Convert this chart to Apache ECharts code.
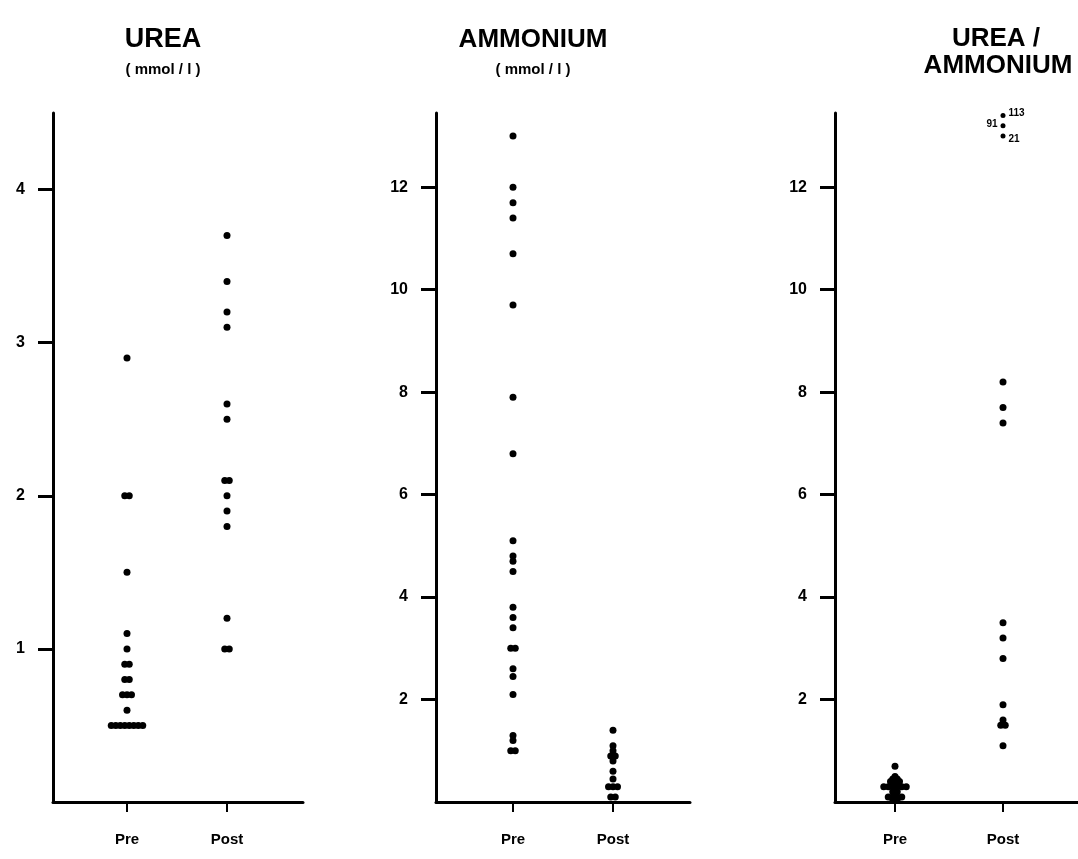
<!DOCTYPE html>
<html>
<head>
<meta charset="utf-8">
<title>Urea and ammonium, pre and post</title>
<script src="https://cdn.jsdelivr.net/npm/echarts@6/dist/echarts.min.js"></script>
<style>
  html, body { margin: 0; padding: 0; background: #fff; }
  #chart { width: 1078px; height: 859px; }
</style>
</head>
<body>
<div id="chart"></div>
<script>
// Groups on the x axis of every panel
const groups = ['Pre', 'Post'];

// Urea (mmol/l)
const ureaPre = [2.9, 2.0, 2.0, 1.5, 1.1, 1.0, 0.9, 0.9, 0.8, 0.8, 0.7, 0.7, 0.7, 0.6,
                 0.5, 0.5, 0.5, 0.5, 0.5, 0.5, 0.5, 0.5];
const ureaPost = [3.7, 3.4, 3.2, 3.1, 2.6, 2.5, 2.1, 2.1, 2.0, 1.9, 1.8, 1.2, 1.0, 1.0];

// Ammonium (mmol/l)
const ammoniumPre = [13.0, 12.0, 11.7, 11.4, 10.7, 9.7, 7.9, 6.8, 5.1, 4.8, 4.7, 4.5,
                     3.8, 3.6, 3.4, 3.0, 3.0, 2.6, 2.45, 2.1, 1.3, 1.2, 1.0, 1.0];
const ammoniumPost = [1.4, 1.1, 1.0, 0.9, 0.9, 0.8, 0.6, 0.45, 0.3, 0.3, 0.3, 0.1, 0.1];

// Urea / ammonium ratio
const ratioPre = [0.7, 0.5, 0.45, 0.45, 0.4, 0.4, 0.4, 0.35, 0.3, 0.3, 0.3, 0.3, 0.3, 0.3,
                  0.25, 0.2, 0.2, 0.15, 0.1, 0.1, 0.1, 0.1, 0.05, 0.05];
const ratioPost = [8.2, 7.7, 7.4, 3.5, 3.2, 2.8, 1.9, 1.6, 1.5, 1.5, 1.1];
// Post values beyond the axis range, stacked at the top with their value written beside
const ratioPostOffScale = [113, 91, 21];

// Tick labels of the y axes
const ureaTicks = [1, 2, 3, 4];
const ammoniumTicks = [2, 4, 6, 8, 10, 12];
const ratioTicks = [2, 4, 6, 8, 10, 12];

// Panel layout (pixels)
const panels = [
  { left: 53,  width: 250, firstAt: 74, spacing: 100, max: 4.5,   ticks: ureaTicks,     pre: ureaPre,     post: ureaPost },
  { left: 436, width: 254, firstAt: 77, spacing: 100, max: 13.45, ticks: ammoniumTicks, pre: ammoniumPre, post: ammoniumPost },
  { left: 835, width: 243, firstAt: 60, spacing: 108, max: 13.45, ticks: ratioTicks,    pre: ratioPre,    post: ratioPost }
];
const gridTop = 113;
const gridHeight = 689;
const dotSize = 7;
const dotStepPx = 4.5;

// Tied values are laid side by side around the group position
function dotRow(values, groupIndex, step) {
  const counts = {};
  values.forEach(v => { counts[v] = (counts[v] || 0) + 1; });
  const seen = {};
  return values.map(v => {
    const k = counts[v];
    const i = seen[v] = (seen[v] === undefined ? 0 : seen[v] + 1);
    return [groupIndex + (i - (k - 1) / 2) * step, v];
  });
}

const font = '"Liberation Sans", Arial, Helvetica, sans-serif';
const grid = [], xAxis = [], yAxis = [], series = [];

panels.forEach((p, idx) => {
  grid.push({ left: p.left, top: gridTop, width: p.width, height: gridHeight, containLabel: false });
  xAxis.push({
    type: 'value', gridIndex: idx,
    min: -p.firstAt / p.spacing,
    max: (p.width - p.firstAt) / p.spacing,
    splitLine: { show: false },
    axisLine: { show: true, onZero: false, lineStyle: { color: '#000', width: 3 } },
    axisTick: { show: true, customValues: [0, 1], length: 10, lineStyle: { color: '#000', width: 2 } },
    axisLabel: {
      customValues: [0, 1], formatter: v => groups[Math.round(v)],
      margin: 30, color: '#000', fontFamily: font, fontWeight: 'bold', fontSize: 15
    }
  });
  yAxis.push({
    type: 'value', gridIndex: idx, min: 0, max: p.max,
    splitLine: { show: false },
    axisLine: { show: true, onZero: false, lineStyle: { color: '#000', width: 3 } },
    axisTick: { show: true, customValues: p.ticks, length: 15, lineStyle: { color: '#000', width: 3 } },
    axisLabel: {
      customValues: p.ticks, margin: 28, color: '#000',
      fontFamily: font, fontWeight: 'bold', fontSize: 16
    }
  });
  const step = dotStepPx / p.spacing;
  [p.pre, p.post].forEach((vals, g) => {
    series.push({
      type: 'scatter', xAxisIndex: idx, yAxisIndex: idx,
      symbol: 'circle', symbolSize: dotSize,
      itemStyle: { color: '#000', opacity: 1 },
      data: dotRow(vals, g, step),
      silent: true, animation: false
    });
  });
});

// Off-scale ratio values: stacked just under the top of the axis, highest first
const ratioMax = panels[2].max;
const offSorted = ratioPostOffScale.slice().sort((a, b) => b - a);
series.push({
  type: 'scatter', xAxisIndex: 2, yAxisIndex: 2,
  symbol: 'circle', symbolSize: 5, itemStyle: { color: '#000', opacity: 1 },
  clip: false, silent: true, animation: false,
  data: offSorted.map((v, r) => ({
    value: [1, Math.min(v, ratioMax - 0.05 - r * 0.2)],
    label: {
      show: true, formatter: String(v),
      position: r % 2 === 1 ? 'left' : 'right',
      offset: r === 2 ? [0, 3] : [0, -2],
      distance: 3, color: '#000', fontFamily: font, fontWeight: 'bold', fontSize: 10
    }
  }))
});

// Panel headings
const titleStyle = (text, x, y, size) => ({
  type: 'text', x: x, y: y,
  style: { text: text, fill: '#000', font: 'bold ' + size + 'px ' + font, textAlign: 'center', textVerticalAlign: 'middle' }
});
const graphic = [
  titleStyle('UREA', 163, 40, 27),
  titleStyle('( mmol / l )', 163, 70, 15),
  titleStyle('AMMONIUM', 533, 40, 26),
  titleStyle('( mmol / l )', 533, 70, 15),
  titleStyle('UREA /', 996, 39, 26),
  titleStyle('AMMONIUM', 998, 66, 26)
];

const chart = echarts.init(document.getElementById('chart'), null, { renderer: 'canvas' });
chart.setOption({
  backgroundColor: '#fff',
  animation: false,
  grid: grid, xAxis: xAxis, yAxis: yAxis, series: series, graphic: graphic
});
</script>
</body>
</html>
